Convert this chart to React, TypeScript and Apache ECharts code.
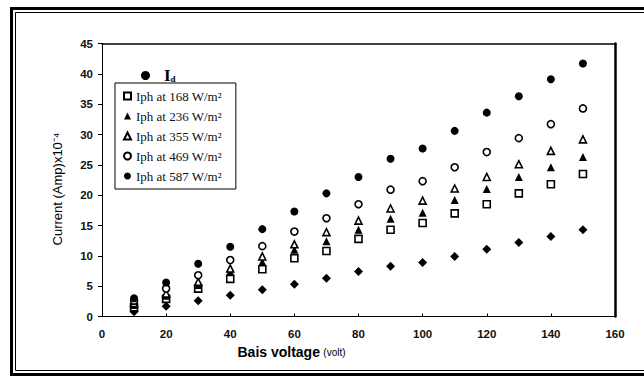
import { useEffect, useRef } from "react";
import * as echarts from "echarts";

const voltages = [10, 20, 30, 40, 50, 60, 70, 80, 90, 100, 110, 120, 130, 140, 150];
const idValues = [0.8, 1.7, 2.6, 3.5, 4.4, 5.3, 6.3, 7.4, 8.3, 8.9, 9.9, 11.1, 12.2, 13.2, 14.3];
const iph168 = [1.5, 2.9, 4.6, 6.2, 7.8, 9.6, 10.8, 12.8, 14.3, 15.4, 17.0, 18.5, 20.3, 21.8, 23.5];
const iph236 = [1.9, 3.4, 5.2, 7.4, 9.0, 11.0, 12.4, 14.3, 16.1, 17.1, 19.2, 21.0, 23.0, 24.6, 26.3];
const iph355 = [2.2, 3.8, 5.7, 7.9, 9.9, 11.9, 13.9, 15.8, 17.8, 19.1, 21.1, 23.0, 25.1, 27.3, 29.2];
const iph469 = [2.6, 4.6, 6.8, 9.3, 11.6, 14.0, 16.2, 18.5, 20.9, 22.3, 24.6, 27.1, 29.4, 31.7, 34.3];
const iph587 = [3.0, 5.6, 8.7, 11.5, 14.4, 17.3, 20.3, 23.0, 26.0, 27.7, 30.6, 33.6, 36.3, 39.1, 41.7];

const idName = "Id";
const iphNames = [
  "Iph at 168 W/m²",
  "Iph at 236 W/m²",
  "Iph at 355 W/m²",
  "Iph at 469 W/m²",
  "Iph at 587 W/m²",
];
const xTicks = { min: 0, max: 160, interval: 20 };
const yTicks = { min: 0, max: 45, interval: 5 };

export default function App() {
  const ref = useRef<HTMLDivElement>(null);
  useEffect(() => {
    document.body.style.margin = "0";
    const chart = echarts.init(ref.current!, null, { renderer: "svg" });
    const pairs = (vals: number[]) => voltages.map((v, i) => [v, vals[i]]);
    const filled = { color: "#000", opacity: 1 };
    const open = { color: "#fff", borderColor: "#000", borderWidth: 1.6, opacity: 1 };
    const sans = "Liberation Sans, Arial, sans-serif";
    const serif = "Liberation Serif, Times New Roman, serif";
    chart.setOption({
      animation: false,
      backgroundColor: "#fff",
      grid: { left: 102, right: 29, top: 43.5, bottom: 60.5 },
      legend: [
        {
          data: [{ name: idName, icon: "circle" }],
          left: 136,
          top: 62,
          itemWidth: 9,
          itemHeight: 9,
          formatter: () => "{a|I}{b|d}",
          textStyle: {
            color: "#000",
            padding: [0, 0, 0, 9],
            rich: {
              a: { fontFamily: serif, fontWeight: "bold", fontSize: 17, color: "#000" },
              b: { fontFamily: serif, fontWeight: "bold", fontSize: 9, color: "#000", padding: [7, 0, 0, 0] },
            },
          },
        },
        {
          data: iphNames,
          orient: "vertical",
          left: 115,
          top: 83,
          padding: [6, 14, 6, 8],
          itemGap: 6,
          itemWidth: 7,
          itemHeight: 7,
          borderColor: "#000",
          borderWidth: 1,
          textStyle: { fontFamily: serif, fontSize: 13, color: "#111", lineHeight: 14 },
        },
      ],
      xAxis: [
        {
          type: "value",
          ...xTicks,
          position: "bottom",
          axisLine: { show: true, onZero: false, lineStyle: { color: "#000", width: 1 } },
          axisTick: { show: true, inside: true, length: 3, lineStyle: { color: "#000" } },
          splitLine: { show: false },
          axisLabel: { margin: 11, fontFamily: sans, fontWeight: "bold", fontSize: 11.5, color: "#111" },
          name: "{a|Bais voltage} {b|(volt)}",
          nameLocation: "middle",
          nameGap: 28,
          nameTextStyle: {
            padding: [0, 134, 0, 0],
            rich: {
              a: { fontFamily: sans, fontWeight: "bold", fontSize: 14, color: "#000" },
              b: { fontFamily: sans, fontSize: 10, color: "#000", padding: [2, 0, 0, 0] },
            },
          },
        },
        {
          type: "value",
          ...xTicks,
          position: "top",
          axisLine: { show: true, onZero: false, lineStyle: { color: "#000", width: 1.5 } },
          axisTick: { show: false },
          axisLabel: { show: false },
          splitLine: { show: false },
        },
      ],
      yAxis: [
        {
          type: "value",
          ...yTicks,
          position: "left",
          axisLine: { show: true, onZero: false, lineStyle: { color: "#000", width: 1 } },
          axisTick: { show: true, inside: false, length: 4, lineStyle: { color: "#000" } },
          splitLine: { show: false },
          axisLabel: { margin: 9, fontFamily: sans, fontWeight: "bold", fontSize: 11.5, color: "#111" },
          name: "Current (Amp)x10⁻⁴",
          nameLocation: "middle",
          nameRotate: 90,
          nameGap: 38,
          nameTextStyle: { fontFamily: sans, fontSize: 13, color: "#000", padding: [0, 18, 0, 0] },
        },
        {
          type: "value",
          ...yTicks,
          position: "right",
          axisLine: { show: true, onZero: false, lineStyle: { color: "#000", width: 2.5 } },
          axisTick: { show: false },
          axisLabel: { show: false },
          splitLine: { show: false },
        },
      ],
      graphic: [
        {
          type: "rect",
          silent: true,
          shape: { x: 11.5, y: 8.5, width: 650, height: 366 },
          style: { fill: "none", stroke: "#000", lineWidth: 3 },
        },
        {
          type: "rect",
          silent: true,
          shape: { x: 15.5, y: 12.5, width: 650, height: 358 },
          style: { fill: "none", stroke: "#000", lineWidth: 1 },
        },
      ],
      series: [
        {
          name: idName,
          type: "scatter",
          symbol: "diamond",
          symbolSize: 9,
          itemStyle: filled,
          data: pairs(idValues),
        },
        {
          name: iphNames[0],
          type: "scatter",
          symbol: "rect",
          symbolSize: 7,
          itemStyle: open,
          data: pairs(iph168),
        },
        {
          name: iphNames[1],
          type: "scatter",
          symbol: "triangle",
          symbolSize: 8,
          itemStyle: filled,
          data: pairs(iph236),
        },
        {
          name: iphNames[2],
          type: "scatter",
          symbol: "triangle",
          symbolSize: 7,
          itemStyle: open,
          data: pairs(iph355),
        },
        {
          name: iphNames[3],
          type: "scatter",
          symbol: "circle",
          symbolSize: 7,
          itemStyle: open,
          data: pairs(iph469),
        },
        {
          name: iphNames[4],
          type: "scatter",
          symbol: "circle",
          symbolSize: 8,
          itemStyle: filled,
          data: pairs(iph587),
        },
      ],
    });
    return () => chart.dispose();
  }, []);
  return <div ref={ref} style={{ width: 644, height: 377 }} />;
}
